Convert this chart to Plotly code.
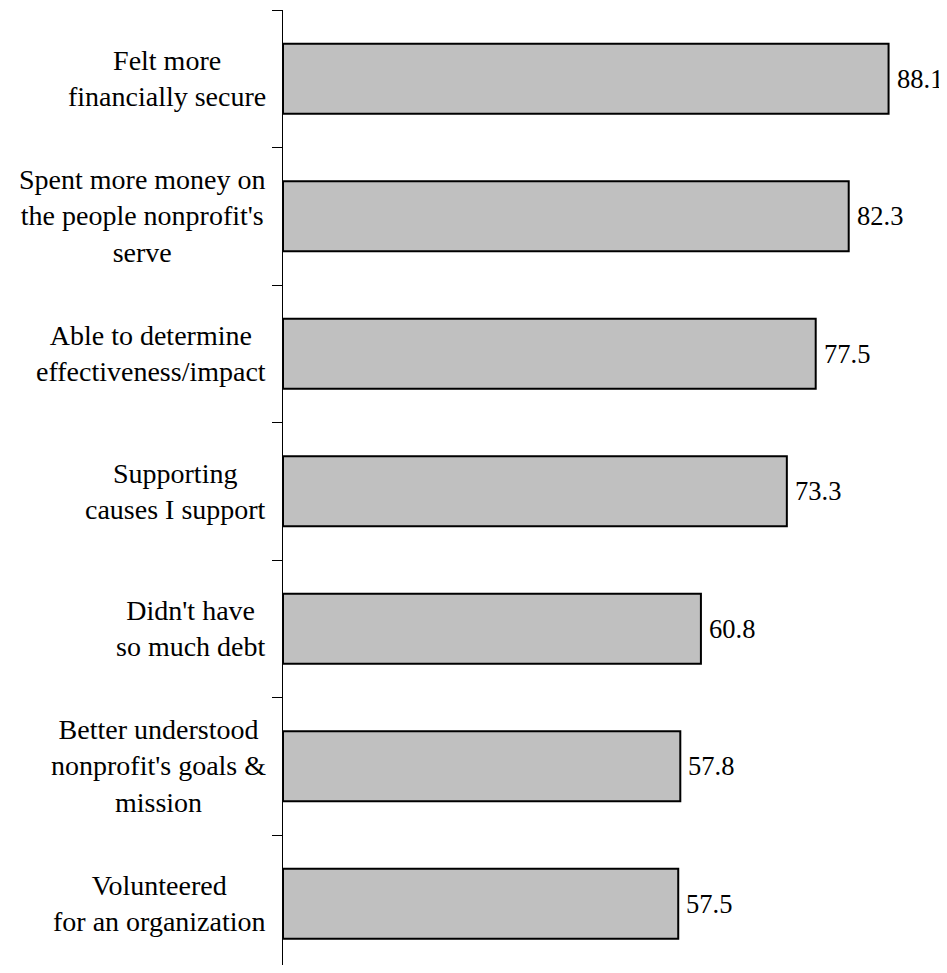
import plotly.graph_objects as go

categories = [
    "Felt more<br>financially secure",
    "Spent more money on<br>the people nonprofit's<br>serve",
    "Able to determine<br>effectiveness/impact",
    "Supporting<br>causes I support",
    "Didn't have<br>so much debt",
    "Better understood<br>nonprofit's goals &<br>mission",
    "Volunteered<br>for an organization",
]
values = [88.1, 82.3, 77.5, 73.3, 60.8, 57.8, 57.5]
value_labels = ["88.1", "82.3", "77.5", "73.3", "60.8", "57.8", "57.5"]

FONT = "Times New Roman, Liberation Serif, serif"

fig = go.Figure()
fig.add_trace(go.Bar(
    x=values, y=categories, orientation="h",
    marker=dict(color="#c0c0c0", line=dict(color="black", width=2)),
    width=0.51,
    hoverinfo="skip",
))

annotations = []
for c in categories:
    annotations.append(dict(
        x=0, xref="paper", y=c, yref="y", text=c, showarrow=False,
        xanchor="right", yanchor="middle", align="center", xshift=-15,
        font=dict(family=FONT, size=28, color="black"),
    ))
for c, v, t in zip(categories, values, value_labels):
    annotations.append(dict(
        x=v, xref="x", y=c, yref="y", text=t, showarrow=False,
        xanchor="left", yanchor="middle", xshift=6,
        font=dict(family=FONT, size=26.5, color="black"),
    ))

fig.update_layout(
    width=939, height=957,
    margin=dict(l=275, r=0, t=2, b=0, autoexpand=False),
    font=dict(family=FONT, size=27, color="black"),
    plot_bgcolor="white", paper_bgcolor="white",
    showlegend=False,
    bargap=0.49,
    annotations=annotations,
    xaxis=dict(range=[0, 96.6], showgrid=False, zeroline=False,
               showticklabels=False, ticks="", showline=False,
               automargin=False),
    yaxis=dict(type="category", range=[6.445, -0.5], showgrid=False,
               zeroline=False, showticklabels=False, showline=True,
               linecolor="black", linewidth=1, ticks="outside",
               tickson="boundaries", ticklen=10, tickcolor="black",
               tickwidth=1, automargin=False),
)

fig.write_html("out.html")
